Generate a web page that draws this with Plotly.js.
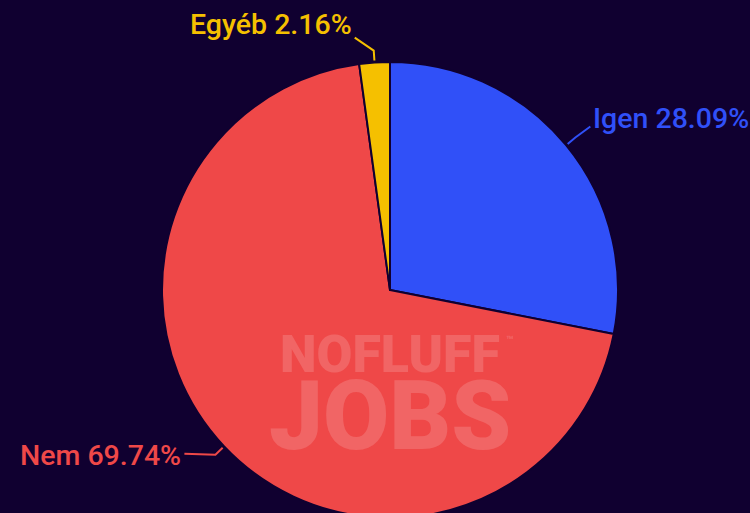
<!DOCTYPE html>
<html>
<head>
<meta charset="utf-8">
<script src="https://cdn.plot.ly/plotly-3.0.1.min.js"></script>
<style>
  html, body { margin: 0; padding: 0; background: #100030; overflow: hidden; }
  #chart { width: 750px; height: 540px; }
</style>
</head>
<body>
<div id="chart"></div>
<script>
// adatok
const cimkek = ["Igen", "Nem", "Egyéb"];
const ertekek = [28.09, 69.74, 2.16];
const szinek = ["#3050f8", "#ef4848", "#f5c000"];

// elrendezés (pixel)
const W = 750, H = 540;
const mT = 62, mB = 22;
const cx = 390, r = 228;
const cy = mT + r;

// vezetővonal vége a törésponthoz képest, és a szöveg helye a vonal végéhez képest
const vonalak = [
    { dx: 15, dy: -11, tx: 1, ty: -8, xanchor: "left" },
    { dx: -31, dy: -1, tx: -1, ty: 2, xanchor: "right" },
    { dx: -19, dy: -13, tx: -1, ty: -13, xanchor: "right" }
];

function papirX(px) { return px / W; }
function papirY(py) { return (H - mB - py) / (H - mT - mB); }

const osszeg = ertekek.reduce((a, b) => a + b, 0);
let kumulalt = 0;
const annotaciok = [];
const alakzatok = [];
ertekek.forEach((v, i) => {
    const szog = (kumulalt + v / 2) / osszeg * 2 * Math.PI;
    kumulalt += v;
    const s = Math.sin(szog), c = Math.cos(szog);
    const x0 = cx + (r + 2) * s, y0 = cy - (r + 2) * c;
    const x1 = cx + (r + 12) * s, y1 = cy - (r + 12) * c;
    const x2 = x1 + vonalak[i].dx, y2 = y1 + vonalak[i].dy;
    alakzatok.push({
        type: "path", xref: "paper", yref: "paper",
        path: "M" + papirX(x0) + "," + papirY(y0) +
              " L" + papirX(x1) + "," + papirY(y1) +
              " L" + papirX(x2) + "," + papirY(y2),
        line: { color: szinek[i], width: 2 }
    });
    annotaciok.push({
        x: papirX(x2 + vonalak[i].tx),
        y: papirY(y2 + vonalak[i].ty),
        xref: "paper", yref: "paper",
        text: cimkek[i] + " " + v.toFixed(2) + "%",
        showarrow: false,
        xanchor: vonalak[i].xanchor,
        yanchor: "middle",
        font: { family: "Roboto", size: 28.5, color: szinek[i], weight: 500 }
    });
});

// vízjel
const vizjel = "rgba(255,255,255,0.16)";
annotaciok.push({
    x: 390 / W, y: papirY(354), yanchor: "middle",
    xref: "paper", yref: "paper", showarrow: false,
    text: "NOFLUFF",
    font: { family: "Roboto", size: 52, color: vizjel, weight: 900 }
});
annotaciok.push({
    x: 504 / W, y: papirY(340), xanchor: "left", yanchor: "middle",
    xref: "paper", yref: "paper", showarrow: false,
    text: "™",
    font: { family: "Roboto", size: 12, color: vizjel, weight: 900 }
});
annotaciok.push({
    x: 390 / W, y: papirY(416), yanchor: "middle",
    xref: "paper", yref: "paper", showarrow: false,
    text: "JOBS",
    font: { family: "Roboto", size: 96, color: vizjel, weight: 900 }
});

Plotly.newPlot("chart", [{
    type: "pie",
    labels: cimkek,
    values: ertekek,
    sort: false,
    direction: "clockwise",
    rotation: 0,
    textinfo: "none",
    hoverinfo: "none",
    marker: { colors: szinek, line: { color: "#100030", width: 2 } },
    domain: { x: [(cx - r) / W, (cx + r) / W], y: [0, 1] }
}], {
    width: W,
    height: H,
    margin: { l: 0, r: 0, t: mT, b: mB },
    paper_bgcolor: "#100030",
    plot_bgcolor: "#100030",
    showlegend: false,
    shapes: alakzatok,
    annotations: annotaciok
}, { staticPlot: true });
</script>
</body>
</html>
